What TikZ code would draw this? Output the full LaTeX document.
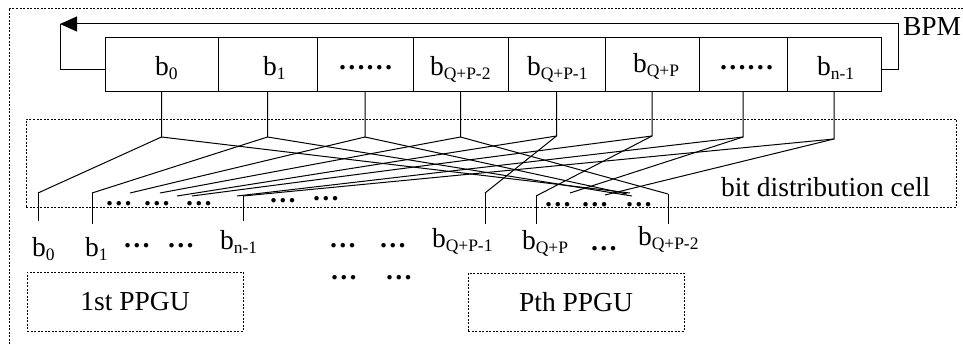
\documentclass[tikz,border=0pt]{standalone}
\usepackage{fontspec}
\setmainfont{Liberation Serif}
\usetikzlibrary{arrows.meta}
\newcommand{\sbs}[1]{\raisebox{-4pt}{\fontsize{17.5}{17.5}\selectfont #1}}
\begin{document}
\begin{tikzpicture}[x=1pt,y=-1pt,
  every node/.style={font=\fontsize{27.5}{30}\selectfont, inner sep=0pt, outer sep=0pt},
  cell/.style={draw, line width=1pt, minimum height=53pt, anchor=north west},
  dbox/.style={draw, line width=0.9pt, dash pattern=on 2pt off 1.5pt},
  wire/.style={line width=1pt},
  lbl/.style={anchor=base west},
  dts/.style={anchor=base west, font=\fontsize{27.5}{30}\selectfont\bfseries},
]
\useasboundingbox (0,0) rectangle (963,345);
% outer dashed frame (cropped)
\draw[dbox] (963,8) -- (9,8) -- (9,345);
% register cells
\node[cell, minimum width=113pt] (c0) at (105,38) {};
\node[cell, minimum width=99pt]  (c1) at (218,38) {};
\node[cell, minimum width=96pt]  (c2) at (317,38) {};
\node[cell, minimum width=95pt]  (c3) at (413,38) {};
\node[cell, minimum width=97pt]  (c4) at (508,38) {};
\node[cell, minimum width=94pt]  (c5) at (605,38) {};
\node[cell, minimum width=88pt]  (c6) at (699,38) {};
\node[cell, minimum width=94pt]  (c7) at (787,38) {};
% cell labels
\node[lbl] (t0) at (155,75) {b\sbs{0}};
\node[lbl] (t1) at (263,75) {b\sbs{1}};
\node[dts] (t2) at (338,70) {……};
\node[lbl] (t3) at (430,75) {b\sbs{Q+P-2}};
\node[lbl] (t4) at (527,75) {b\sbs{Q+P-1}};
\node[lbl] (t5) at (633,73) {b\sbs{Q+P}};
\node[dts] (t6) at (719,70) {……};
\node[lbl] (t7) at (817,75) {b\sbs{n-1}};
% feedback loop
\coordinate (fbR) at (881,69);
\coordinate (fbL) at (105,69);
\coordinate (fbA) at (898,24);
\coordinate (fbB) at (60,24);
\draw[wire, -{Triangle[length=17pt,width=15pt]}] (fbR) -| (fbA) -- (fbB);
\draw[wire] (fbB) |- (fbL);
\node[lbl] (bpm) at (903,36) {BPM};
% bit distribution cell
\node[dbox, minimum width=930pt, minimum height=88pt, anchor=north west] (bdc) at (26,119) {};
\node[lbl] (bdct) at (721,196) {bit distribution cell};
% junctions
\path (c0.south) ++(0,46) coordinate (j0);
\path (c1.south) ++(0,46) coordinate (j1);
\path (c2.south) ++(0,46) coordinate (j2);
\path (c3.south) ++(0,46) coordinate (j3);
\path (c4.south) ++(0,45) coordinate (j4);
\path (c5.south) ++(0,45) coordinate (j5);
\path (c6.south) ++(0,46) coordinate (j6);
\path (c7.south) ++(0,48) coordinate (j7);
% left group ends
\coordinate (l0) at (38,193);
\coordinate (l1) at (92,193);
\coordinate (l2) at (130,193);
\coordinate (l3) at (160,193);
\coordinate (l4) at (177,196);
\coordinate (l5) at (192,196);
\coordinate (l6) at (237,196);
\coordinate (l7) at (243,196);
% right group ends
\coordinate (r4) at (485,193);
\coordinate (r5) at (536,196);
\coordinate (r6) at (570,193);
\coordinate (r7) at (605,195);
\coordinate (r0) at (630,193);
\coordinate (r1) at (632,196);
\coordinate (r2) at (627,194);
\coordinate (r3) at (668,194);
% wires
\foreach \k in {0,...,7}{
  \draw[wire] (c\k.south) -- (j\k) -- (l\k);
  \draw[wire] (j\k) -- (r\k);
}
% output stubs
\coordinate (ob0) at (38,221);
\coordinate (ob1) at (92,224);
\coordinate (ob7) at (243,221);
\coordinate (ob4) at (485,224);
\coordinate (ob5) at (536,224);
\coordinate (ob3) at (668,224);
\draw[wire] (l0) -- (ob0);
\draw[wire] (l1) -- (ob1);
\draw[wire] (l7) -- (ob7);
\draw[wire] (r4) -- (ob4);
\draw[wire] (r5) -- (ob5);
\draw[wire] (r3) -- (ob3);
% dots inside the cell
\node[dts] (d1) at (105,205) {…};
\node[dts] (d2) at (143,205) {…};
\node[dts] (d3) at (185,205) {…};
\node[dts] (d4) at (269,202) {…};
\node[dts] (d5) at (312,200) {…};
\node[dts] (d6) at (544,206) {…};
\node[dts] (d7) at (581,206) {…};
\node[dts] (d8) at (625,206) {…};
% output labels
\node[lbl] (o0) at (32,256) {b\sbs{0}};
\node[lbl] (o1) at (85,256) {b\sbs{1}};
\node[dts] (e1) at (123,247) {…};
\node[dts] (e2) at (167,247) {…};
\node[lbl] (o7) at (220,249) {b\sbs{n-1}};
\node[dts] (e3) at (329,247) {…};
\node[dts] (e4) at (379,247) {…};
\node[dts] (e5) at (330,279) {…};
\node[dts] (e6) at (385,279) {…};
\node[lbl] (o4) at (432,247) {b\sbs{Q+P-1}};
\node[lbl] (o5) at (522,249) {b\sbs{Q+P}};
\node[dts] (e7) at (590,250) {…};
\node[lbl] (o3) at (638,245) {b\sbs{Q+P-2}};
% PPGU boxes
\node[dbox, minimum width=216pt, minimum height=59pt, anchor=north west] (p1) at (27,272) {1st PPGU};
\node[dbox, minimum width=216pt, minimum height=58pt, anchor=north west] (pp) at (468,273) {Pth PPGU};
\end{tikzpicture}
\end{document}
